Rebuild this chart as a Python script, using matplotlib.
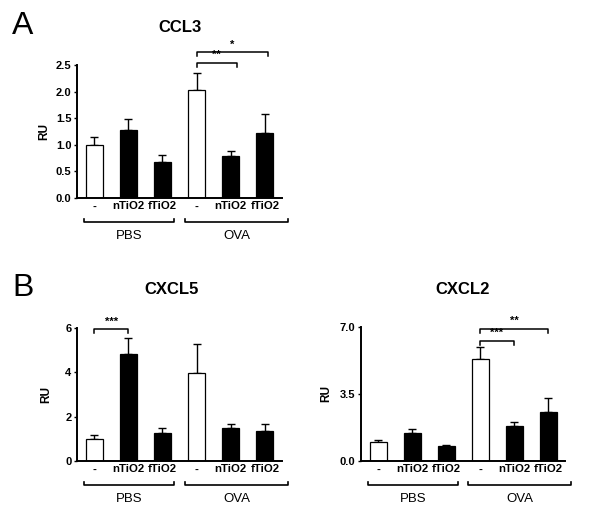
import matplotlib
matplotlib.use("Agg")
import matplotlib.pyplot as plt
import numpy as np

plt.rcParams['font.family'] = ['Liberation Sans', 'DejaVu Sans']

categories = ['-', 'nTiO2', 'fTiO2', '-', 'nTiO2', 'fTiO2']
groups = ['PBS', 'OVA']
bar_colors = ['white', 'black', 'black', 'white', 'black', 'black']

ccl3_mean = [1.00, 1.28, 0.68, 2.03, 0.79, 1.23]
ccl3_err = [0.15, 0.20, 0.12, 0.32, 0.10, 0.35]

cxcl5_mean = [1.00, 4.83, 1.28, 3.96, 1.47, 1.35]
cxcl5_err = [0.19, 0.71, 0.22, 1.30, 0.18, 0.34]

cxcl2_mean = [1.00, 1.45, 0.77, 5.34, 1.82, 2.54]
cxcl2_err = [0.10, 0.20, 0.09, 0.61, 0.21, 0.77]

W, H = 600, 517
fig = plt.figure(figsize=(6.0, 5.17), dpi=100)


def px_axes(left, top, right, bottom):
    return fig.add_axes([left / W, 1 - bottom / H, (right - left) / W, (bottom - top) / H])


def draw_panel(ax, means, errs, ylim, yticks, ylabels, sig, title, title_xy, ylabel_x):
    x = np.arange(len(means))
    ax.bar(x, means, width=0.5, color=bar_colors, edgecolor='black', linewidth=0.9, zorder=2)
    ax.errorbar(x, means, yerr=[np.zeros(len(errs)), errs], fmt='none', ecolor='black',
                elinewidth=1.0, capsize=3.2, capthick=1.0, zorder=1)
    ax.set_xlim(-0.5, 5.5)
    ax.set_ylim(*ylim)
    ax.set_yticks(yticks)
    ax.set_yticklabels(ylabels, fontsize=8, fontweight='bold')
    ax.set_xticks(x)
    ax.set_xticklabels(categories, fontsize=8.2, fontweight='bold')
    ax.tick_params(axis='x', length=0, pad=2.5)
    ax.tick_params(axis='y', length=2.5, width=1.0, pad=1.5)
    for s in ['top', 'right']:
        ax.spines[s].set_visible(False)
    for s in ['left', 'bottom']:
        ax.spines[s].set_linewidth(1.4)
    ax.set_ylabel('RU', fontsize=8.5, fontweight='bold')
    ax.yaxis.set_label_coords(ylabel_x, 0.5)

    # group brackets below axis
    tr = ax.get_xaxis_transform()
    for (x0, x1), g in zip([(-0.3, 2.35), (2.65, 5.68)], groups):
        ax.plot([x0, x0, x1, x1], [-0.155, -0.18, -0.18, -0.155], color='black',
                lw=1.2, transform=tr, clip_on=False)
        ax.text((x0 + x1) / 2, -0.285, g, transform=tr, ha='center', va='center', fontsize=9.5)

    # significance brackets
    span = ylim[1] - ylim[0]
    for (x0, x1, y, drop, label) in sig:
        ax.plot([x0, x0, x1, x1], [y - drop, y, y, y - drop], color='black', lw=1.1, clip_on=False)
        ax.text((x0 + x1) / 2, y + 0.02 * span, label, ha='center', va='bottom',
                fontsize=8, fontweight='bold')

    fig.text(title_xy[0] / W, 1 - title_xy[1] / H, title, ha='center', va='center',
             fontsize=12, fontweight='bold')


axA = px_axes(77, 65, 282, 198)
draw_panel(axA, ccl3_mean, ccl3_err, (0, 2.5), [0, 0.5, 1.0, 1.5, 2.0, 2.5],
           ['0.0', '0.5', '1.0', '1.5', '2.0', '2.5'],
           [(3.0, 4.17, 2.54, 0.07, '**'), (3.0, 5.08, 2.74, 0.07, '*')],
           'CCL3', (180, 28), -0.13)

axB1 = px_axes(77, 328, 282, 461)
draw_panel(axB1, cxcl5_mean, cxcl5_err, (0, 6), [0, 2, 4, 6], ['0', '2', '4', '6'],
           [(0.0, 1.0, 5.95, 0.18, '***')],
           'CXCL5', (172, 290), -0.12)

axB2 = px_axes(361, 327, 565, 461)
draw_panel(axB2, cxcl2_mean, cxcl2_err, (0, 7), [0, 3.5, 7.0], ['0.0', '3.5', '7.0'],
           [(3.0, 4.0, 6.27, 0.21, '***'), (3.0, 5.0, 6.9, 0.21, '**')],
           'CXCL2', (463, 290), -0.14)

fig.text(23 / W, 1 - 26 / H, 'A', ha='center', va='center', fontsize=23)
fig.text(23 / W, 1 - 288 / H, 'B', ha='center', va='center', fontsize=23)

fig.savefig('out.png', dpi=100, facecolor='white')
